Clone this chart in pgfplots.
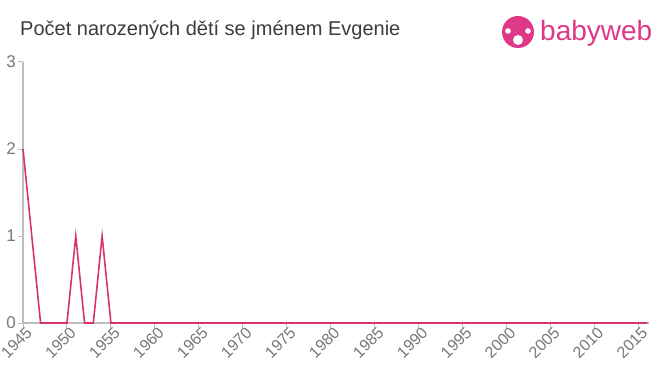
\documentclass[border=0pt]{standalone}
\usepackage{fontspec}
\setmainfont{Liberation Sans}
\usepackage{pgfplots}
\pgfplotsset{compat=1.18}
\definecolor{linec}{RGB}{216,52,108}
\definecolor{axc}{RGB}{190,190,190}
\definecolor{txt}{RGB}{120,120,120}
\definecolor{ttl}{RGB}{60,60,60}
\definecolor{logo}{RGB}{224,56,137}
\begin{document}
\begin{tikzpicture}[x=1pt,y=1pt]
\path[use as bounding box] (0,0) rectangle (660,375);
\begin{axis}[at={(23pt,52pt)}, anchor=south west, scale only axis,
  width=626pt, height=261pt,
  xmin=1945, xmax=2016.2, ymin=0, ymax=3,
  axis x line*=bottom, axis y line*=left,
  axis line style={axc, line width=1.2pt},
  tick style={axc, line width=1pt},
  tick align=outside, major tick length=5pt,
  xtick={1945,1950,...,2015}, ytick={0,1,2,3},
  /pgf/number format/1000 sep={},
  /pgf/number format/assume math mode=true,
  x tick label style={rotate=45, anchor=north east, font=\fontsize{16}{16}\selectfont, text=txt, inner sep=0pt, xshift=3pt, yshift=0pt},
  y tick label style={font=\fontsize{17}{17}\selectfont, text=txt, inner sep=2pt},
  clip=false]
\addplot[linec, line width=1.6pt, mark=none] coordinates {
(1945,2)(1946,1)(1947,0)(1948,0)(1949,0)(1950,0)(1951,1)(1952,0)(1953,0)(1954,1)(1955,0)
(1956,0)(1960,0)(1970,0)(1980,0)(1990,0)(2000,0)(2010,0)(2016,0)};
\end{axis}
\node[anchor=west, text=ttl, font=\fontsize{20}{20}\selectfont, inner sep=0] at (20,345) {Počet narozených dětí se jménem Evgenie};
\fill[logo] (518,343) circle (16);
\fill[white] (518,335) circle (5);
\fill[white] (508,344) circle (2.8);
\fill[white] (528,344) circle (2.8);
\node[anchor=west, text=logo, font=\fontsize{28}{28}\selectfont, inner sep=0] at (540,342) {babyweb};
\end{tikzpicture}
\end{document}
